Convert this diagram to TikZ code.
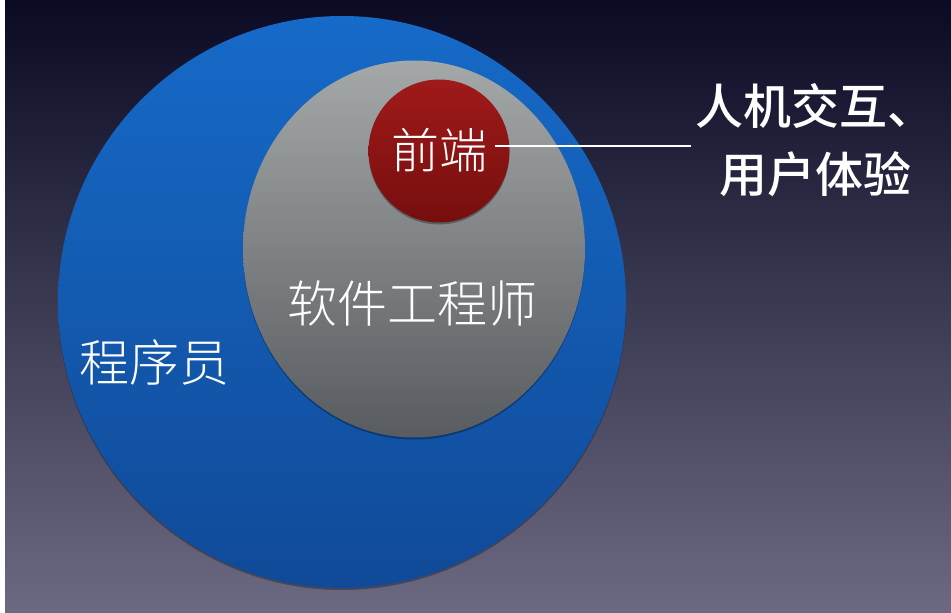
\documentclass[tikz,border=0pt]{standalone}
\usepackage{fontspec}
\setmainfont{Noto Sans CJK SC}
\newfontfamily\thincjk{Noto Sans CJK SC Light}
\newfontfamily\midcjk{Noto Sans CJK SC Medium}
\usepackage{tikz}
\usetikzlibrary{positioning, shapes.geometric, shadows}

\definecolor{bgtop}{RGB}{10,10,36}
\definecolor{bgmid}{RGB}{48,48,82}
\definecolor{bgbot}{RGB}{108,106,130}
\definecolor{progtop}{RGB}{22,106,200}
\definecolor{progbot}{RGB}{16,74,152}
\definecolor{engtop}{RGB}{164,168,168}
\definecolor{engbot}{RGB}{88,92,96}
\definecolor{fetop}{RGB}{160,26,26}
\definecolor{febot}{RGB}{118,14,14}

\begin{document}
\begin{tikzpicture}[x=1pt, y=-1pt,
    blob/.style={ellipse, inner sep=0pt, draw=none},
    label/.style={text=white, inner sep=0pt, font=\thincjk\fontsize{50}{60}\selectfont},
    soft/.style={drop shadow={shadow xshift=0pt, shadow yshift=-2pt, opacity=0.3, fill=black}}]

    % Page and background
    \useasboundingbox (0,0) rectangle (951,613);
    \fill[white] (0,0) rectangle (5,613);
    \fill[top color=bgtop, middle color=bgmid, bottom color=bgbot] (5,0) rectangle (951,613);

    % The three nested sets
    \node[blob, soft, top color=progtop, bottom color=progbot, minimum width=568pt, minimum height=572pt] (prog) at (342,302) {};
    \node[blob, soft, top color=engtop, bottom color=engbot, minimum width=342pt, minimum height=377pt] (eng) at (414,249) {};
    \node[blob, soft, top color=fetop, bottom color=febot, minimum width=141pt, minimum height=143pt] (feball) at (439,151) {};

    % Their names
    \node[label] (progname) at (154,362) {程序员};
    \node[label] (engname) at (412,303) {软件工程师};
    \node[label, font=\thincjk\fontsize{48}{58}\selectfont] (fe) at (439,150) {前端};

    % Note on the right
    \node[text=white, align=center, font=\midcjk\fontsize{48}{68}\selectfont] (hci) at (815,140) {人机交互、\\用户体验};
    \draw[white, line width=1.2pt, shorten <=8pt] (fe.east |- 0,146) -- (hci.west |- 0,146);
\end{tikzpicture}
\end{document}
